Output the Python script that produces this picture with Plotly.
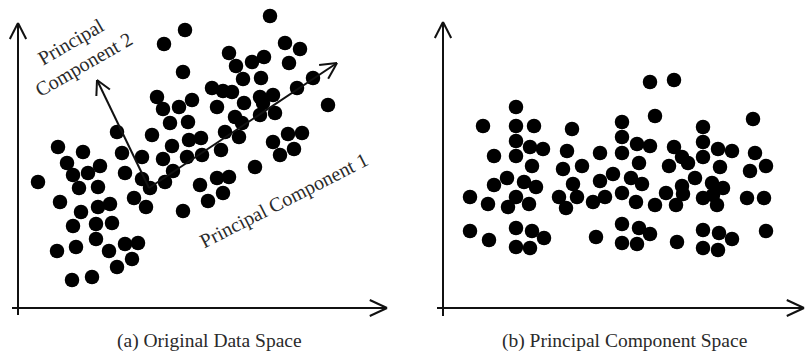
import math
import plotly.graph_objects as go

# ---- data: panel (a) original space, panel (b) principal-component space ----
orig_x = [167, 146, 165, 139, 145, 161, 174, 152, 170, 99, 134, 154, 171, 40, 65, 104, 124, 145, 169,
          252, 267, 282, 211, 246, 234, 218, 271, 225, 243, 295, 194, 205, 214, 279, 199, 226, 245, 242,
          255, 310, 217, 242, 257, 224, 207, 221, 270, 284, 183, 255, 276, 203, 262, 184,
          49, 82, 70, 55, 107, 155, 20, 124, 147, 132, 61, 80, 42, 116, 128, 165, 63, 80, 92,
          55, 78, 94, 78, 107, 120, 39, 58, 91, 114, 99, 54, 74,
          237, 199, 211, 182, 205, 190]
orig_y = [278, 264, 236, 211, 199, 201, 208, 185, 186, 176, 173, 162, 168, 161, 156, 155, 151, 149, 151,
          292, 265, 259, 255, 251, 246, 242, 245, 229, 230, 230, 220, 217, 216, 220, 201, 205, 205, 211,
          213, 203, 191, 193, 195, 185, 176, 171, 174, 175, 170, 166, 159, 158, 153, 153,
          145, 142, 135, 133, 135, 137, 126, 129, 126, 120, 120, 121, 106, 110, 101, 97, 96, 101, 104,
          82, 84, 85, 69, 64, 65, 57, 61, 57, 49, 41, 28, 31,
          141, 130, 131, 123, 115, 107]

pc_x = [73, 40, 73, 91, 129, 73, 87, 100, 51, 73, 124, 157, 89, 120, 139, 64, 51, 81, 93, 130, 157, 170,
        27, 73, 116, 134, 150, 162, 45, 65, 86, 123,
        207, 231, 212, 310, 179, 260, 179, 194, 207, 231, 260, 275, 289, 179, 239, 245, 260, 312, 196,
        226, 277, 323, 307, 188, 199, 252, 239, 269, 280, 179, 193, 223, 240, 260, 270, 304, 321,
        212, 233, 274,
        27, 46, 73, 89, 101, 73, 87, 153, 179, 179, 196, 207, 194, 234, 260, 276, 289, 260, 275, 323]
pc_y = [201, 182, 182, 182, 179, 167, 161, 159, 152, 152, 157, 155, 142, 139, 142, 130, 123, 126, 121,
        124, 127, 134, 111, 111, 111, 111, 106, 111, 104, 101, 104, 100,
        226, 228, 192, 189, 186, 181, 171, 164, 162, 161, 166, 159, 157, 155, 151, 145, 151, 155, 145,
        142, 141, 142, 137, 130, 124, 130, 122, 125, 120, 115, 106, 115, 114, 110, 113, 110, 110,
        103, 103, 103,
        77, 68, 80, 77, 70, 61, 60, 71, 84, 65, 80, 74, 64, 66, 78, 75, 69, 60, 58, 77]

captions = ["(a) Original Data Space", "(b) Principal Component Space"]
pc1_label = "Principal Component 1"
pc2_label = "Principal<br>Component 2"

W, H = 806, 354
SERIF = "Liberation Serif, Times New Roman, serif"
INK = "#111111"
TEXT = "#2a2a2a"


def paper(px, py):
    """Pixel position on the page -> paper coordinates (margins are zero)."""
    return px / W, 1 - py / H


def seg(p0, p1, width=2, color=INK):
    x0, y0 = paper(*p0)
    x1, y1 = paper(*p1)
    return dict(type="line", xref="paper", yref="paper", x0=x0, y0=y0, x1=x1, y1=y1,
                line=dict(color=color, width=width), layer="above")


def arrow(start, tip, head=18, spread=26, width=2):
    """Straight line with an open chevron head at `tip` (pixel coords)."""
    dx, dy = tip[0] - start[0], tip[1] - start[1]
    n = math.hypot(dx, dy)
    ux, uy = -dx / n, -dy / n
    out = [seg(start, tip, width)]
    for s in (spread, -spread):
        a = math.radians(s)
        rx = ux * math.cos(a) - uy * math.sin(a)
        ry = ux * math.sin(a) + uy * math.cos(a)
        out.append(seg(tip, (tip[0] + head * rx, tip[1] + head * ry), width))
    return out


fig = go.Figure()
fig.add_trace(go.Scatter(x=orig_x, y=orig_y, mode="markers", xaxis="x", yaxis="y",
                         marker=dict(size=14.5, color="black", line=dict(width=0)),
                         cliponaxis=False, hoverinfo="skip"))
fig.add_trace(go.Scatter(x=pc_x, y=pc_y, mode="markers", xaxis="x2", yaxis="y2",
                         marker=dict(size=14.5, color="black", line=dict(width=0)),
                         cliponaxis=False, hoverinfo="skip"))

# panel frames: origin of (a) at pixel (18, 308), of (b) at (443, 308); 1 unit = 1 px
ax = dict(visible=False, fixedrange=True)
fig.update_layout(
    width=W, height=H, margin=dict(l=0, r=0, t=0, b=0),
    paper_bgcolor="white", plot_bgcolor="white", showlegend=False,
    xaxis=dict(domain=[18 / W, 388 / W], range=[0, 370], **ax),
    yaxis=dict(domain=[(H - 308) / H, (H - 8) / H], range=[0, 300], **ax),
    xaxis2=dict(domain=[443 / W, 1.0], range=[0, 363], anchor="y2", **ax),
    yaxis2=dict(domain=[(H - 308) / H, (H - 8) / H], range=[0, 300], anchor="x2", **ax),
)

shapes = []
# coordinate axes with open arrowheads
shapes += arrow((18, 315), (18, 23), head=18, spread=27)
shapes += arrow((12, 308), (387, 308), head=19, spread=25)
shapes += arrow((443, 316), (443, 22), head=18, spread=27)
shapes += arrow((437, 308), (804, 308), head=19, spread=25)
# principal directions drawn in the original space
shapes += arrow((149, 188), (337, 63), head=18, spread=27)
shapes += arrow((149, 188), (97, 80), head=16, spread=28)
fig.update_layout(shapes=shapes)

ann = []
for text, cx in zip(captions, (209, 624)):
    x, y = paper(cx, 341)
    ann.append(dict(text=text, x=x, y=y, xref="paper", yref="paper", showarrow=False,
                    xanchor="center", yanchor="middle",
                    font=dict(family=SERIF, size=19.5, color=TEXT)))
x, y = paper(284, 200)
ann.append(dict(text=pc1_label, x=x, y=y, xref="paper", yref="paper", showarrow=False,
                xanchor="center", yanchor="middle", textangle=-27,
                font=dict(family=SERIF, size=20, color=TEXT)))
x, y = paper(77, 53)
ann.append(dict(text=pc2_label, x=x, y=y, xref="paper", yref="paper", showarrow=False,
                xanchor="center", yanchor="middle", textangle=-30, align="center",
                font=dict(family=SERIF, size=20, color=TEXT)))
fig.update_layout(annotations=ann)

fig.write_html("out.html")
